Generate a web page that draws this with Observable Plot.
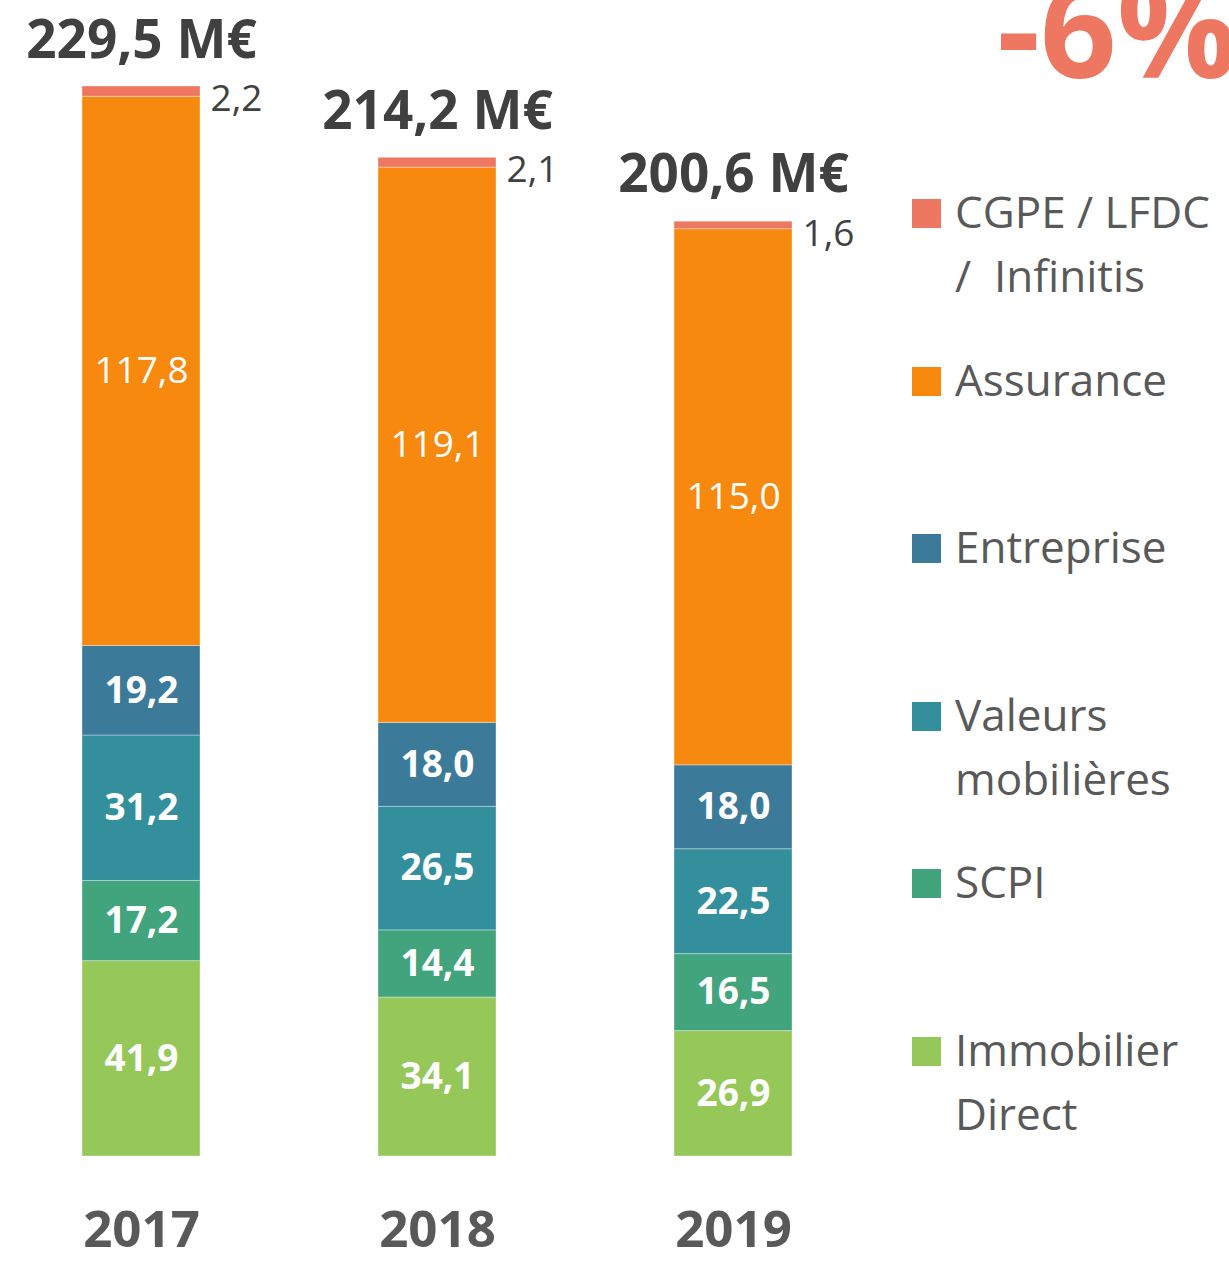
<!DOCTYPE html>
<html>
<head>
<meta charset="utf-8">
<script src="https://cdn.jsdelivr.net/npm/d3@7"></script>
<script src="https://cdn.jsdelivr.net/npm/@observablehq/plot@0.6"></script>
<style>
  html, body { margin: 0; padding: 0; background: #fff; overflow: hidden; }
  #wrap { position: relative; width: 1229px; height: 1262px; font-family: "Open Sans", sans-serif; overflow: hidden; }
  #chart { position: absolute; left: 0; top: 0; }
  .big { position: absolute; left: 997px; font-weight: 700; font-size: 134px; color: #EE7762; line-height: 134px; white-space: nowrap; }
  .sw { position: absolute; width: 29px; height: 29px; }
  .lt { position: absolute; font-size: 44px; line-height: 64px; color: #595959; white-space: pre; }
</style>
</head>
<body>
<div id="wrap"><div id="chart"></div></div>
<script>
const years = ["2017", "2018", "2019"];
const categories = ["CGPE / LFDC /  Infinitis", "Assurance", "Entreprise", "Valeurs mobilières", "SCPI", "Immobilier Direct"];
const legendLines = [["CGPE / LFDC", "/  Infinitis"], ["Assurance"], ["Entreprise"], ["Valeurs", "mobilières"], ["SCPI"], ["Immobilier", "Direct"]];
const colors = ["#EE7762", "#F7890F", "#3C7A99", "#348F9D", "#42A47D", "#96C759"];
// values per category (same order as categories), per year
const cgpe       = [2.2, 2.1, 1.6];
const assurance  = [117.8, 119.1, 115.0];
const entreprise = [19.2, 18.0, 18.0];
const valeurs    = [31.2, 26.5, 22.5];
const scpi       = [17.2, 14.4, 16.5];
const immobilier = [41.9, 34.1, 26.9];
const totals     = [229.5, 214.2, 200.6];
const headline   = "-6%";

const series = [cgpe, assurance, entreprise, valeurs, scpi, immobilier];
const fmt = v => d3.format(".1f")(v).replace(".", ",");

// build rows bottom-first for stacking
const rows = [];
for (let c = categories.length - 1; c >= 0; c--) {
  years.forEach((y, i) => rows.push({year: y, cat: categories[c], ci: c, value: series[c][i]}));
}
const totalRows = years.map((y, i) => ({year: y, total: totals[i]}));
const topRows = years.map((y, i) => ({year: y, total: totals[i], value: cgpe[i]}));

const stackOpts = {x: "year", y: "value", z: "cat", order: categories.slice().reverse()};

const plot = Plot.plot({
  width: 1229,
  height: 1262,
  marginTop: 86,
  marginBottom: 106,
  marginLeft: 81,
  marginRight: 437,
  style: {fontFamily: "Open Sans, sans-serif", background: "transparent", overflow: "visible"},
  x: {domain: years, paddingInner: 0.602, paddingOuter: 0, axis: null},
  y: {domain: [0, 229.5], axis: null},
  color: {domain: categories, range: colors},
  marks: [
    Plot.barY(rows, Plot.stackY({...stackOpts, fill: "cat", stroke: "#ffffff", strokeOpacity: 0.35, strokeWidth: 1})),
    // bold white labels
    Plot.text(rows, Plot.stackY({...stackOpts, text: d => d.ci >= 2 ? fmt(d.value) : "", fill: "#ffffff", fontWeight: 700, fontSize: 37, lineAnchor: "middle"})),
    // regular white labels for Assurance
    Plot.text(rows, Plot.stackY({...stackOpts, text: d => d.ci === 1 ? fmt(d.value) : "", fill: "#ffffff", fontWeight: 400, fontSize: 37, lineAnchor: "middle"})),
    // small labels next to top segment
    Plot.text(topRows, {x: "year", y: "total", text: d => fmt(d.value), fill: "#404040", fontSize: 37, textAnchor: "start", dx: 69, lineAnchor: "top", dy: -2}),
    // totals
    Plot.text(totalRows, {x: "year", y: "total", text: d => fmt(d.total) + " M€", fill: "#404040", fontWeight: 700, fontSize: 53, lineAnchor: "bottom", dy: -29}),
    // year labels
    Plot.text(years, {x: d => d, frameAnchor: "bottom", text: d => d, fill: "#595959", fontWeight: 700, fontSize: 51, lineAnchor: "bottom", dy: 90})
  ]
});
document.getElementById("chart").appendChild(plot);

const wrap = document.getElementById("wrap");
const big = document.createElement("div");
big.className = "big";
big.textContent = headline;
wrap.appendChild(big);
// baseline of the headline at y = 78
big.style.top = (78 - ((134 - 134 * 1.362) / 2 + 134 * 1.069)) + "px";

categories.forEach((c, i) => {
  const baseline = 228 + i * 167.5;
  const sw = document.createElement("div");
  sw.className = "sw";
  sw.style.left = "912px";
  sw.style.top = (baseline - 29) + "px";
  sw.style.background = colors[i];
  wrap.appendChild(sw);
  const t = document.createElement("div");
  t.className = "lt";
  t.style.left = "955px";
  t.style.top = (baseline - 49) + "px";
  t.textContent = legendLines[i].join("\n");
  wrap.appendChild(t);
});
</script>
</body>
</html>
